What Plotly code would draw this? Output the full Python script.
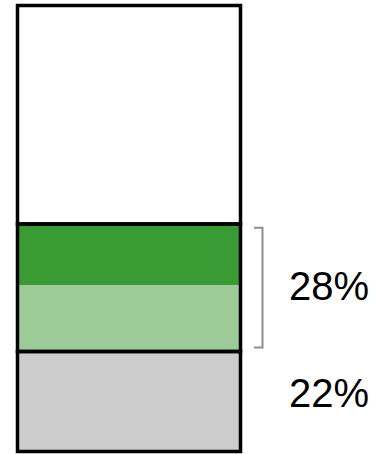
import plotly.graph_objects as go

# Stacked share values (percent), bottom to top
segments = ["Other", "Group B (light)", "Group B (dark)", "Remainder"]
values = [22, 14.5, 13.5, 48]
colors = ["#cccccc", "#9dcb98", "#3a9a33", "#ffffff"]

# Labels shown to the right of the bar
gray_label = "22%"
green_label = "28%"

BAR_X = 129
BAR_W = 223

fig = go.Figure()
for name, v, c in zip(segments, values, colors):
    fig.add_trace(go.Bar(
        x=[BAR_X], y=[v], width=BAR_W, name=name,
        marker=dict(color=c, line=dict(width=0)),
        hoverinfo="skip",
    ))

# cumulative boundaries
bounds = [0]
for v in values:
    bounds.append(bounds[-1] + v)
gray_lo, gray_hi = bounds[0], bounds[1]
green_lo, green_hi = bounds[1], bounds[3]
white_lo, white_hi = bounds[3], bounds[4]

x0, x1 = BAR_X - BAR_W / 2, BAR_X + BAR_W / 2
shapes = []
for lo, hi in [(gray_lo, gray_hi), (green_lo, green_hi), (white_lo, white_hi)]:
    shapes.append(dict(type="rect", xref="x", yref="y", x0=x0, x1=x1, y0=lo, y1=hi,
                       line=dict(color="black", width=3.5), fillcolor="rgba(0,0,0,0)"))

# bracket around the green group
inset = 0.85
bx0, bx1 = x1 + 13.5, x1 + 22
b_lo, b_hi = green_lo + inset, green_hi - inset
shapes.append(dict(type="path", xref="x", yref="y",
                   path=f"M {bx0} {b_hi} L {bx1} {b_hi} L {bx1} {b_lo} L {bx0} {b_lo}",
                   line=dict(color="#8e8e8e", width=2)))

font = dict(family="Liberation Sans, Arial, sans-serif", size=40, color="black")
annotations = [
    dict(x=x1 + 46, y=(green_lo + green_hi) / 2, xref="x", yref="y", text=green_label,
         showarrow=False, xanchor="left", yanchor="middle", yshift=2, font=font),
    dict(x=x1 + 46, y=(gray_lo + gray_hi) / 2, xref="x", yref="y", text=gray_label,
         showarrow=False, xanchor="left", yanchor="middle", yshift=8, font=font),
]

fig.update_layout(
    barmode="stack",
    width=376, height=454,
    margin=dict(l=0, r=0, t=0, b=0),
    paper_bgcolor="white", plot_bgcolor="white",
    showlegend=False,
    xaxis=dict(range=[0, 376], visible=False, fixedrange=True),
    yaxis=dict(range=[-0.55, 99.21], visible=False, fixedrange=True),
    shapes=shapes, annotations=annotations,
    bargap=0,
)

fig.write_html("out.html", config={"displayModeBar": False})
